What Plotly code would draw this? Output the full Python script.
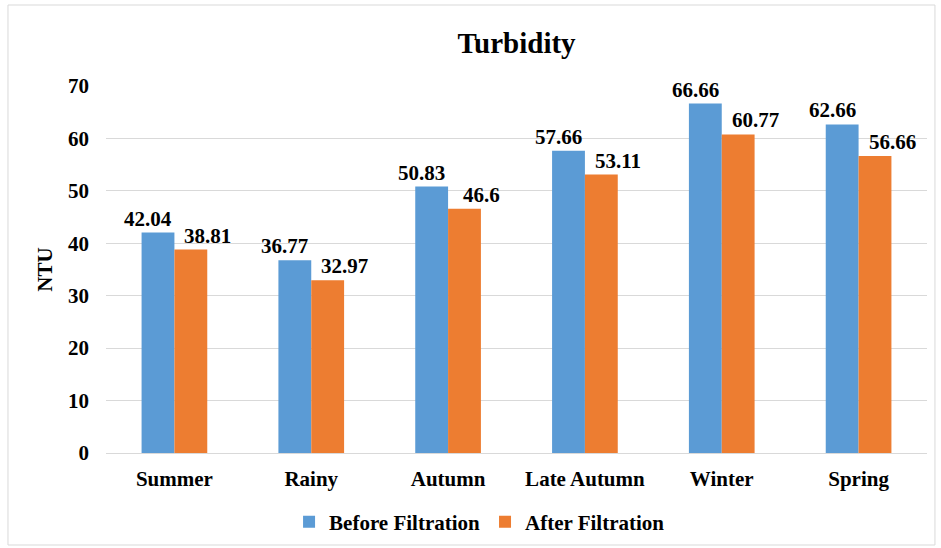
import plotly.graph_objects as go

categories = ["Summer", "Rainy", "Autumn", "Late Autumn", "Winter", "Spring"]
before = [42.04, 36.77, 50.83, 57.66, 66.66, 62.66]
after = [38.81, 32.97, 46.6, 53.11, 60.77, 56.66]
before_labels = ["42.04", "36.77", "50.83", "57.66", "66.66", "62.66"]
after_labels = ["38.81", "32.97", "46.6", "53.11", "60.77", "56.66"]
y_ticks = [0, 10, 20, 30, 40, 50, 60, 70]

FONT = "Liberation Serif"
def f(size):
    return dict(family=FONT, size=size, color="black", weight="bold")

BARGAP = 0.52
half = (1 - BARGAP) / 4  # offset of each bar centre from the category centre

fig = go.Figure()
fig.add_trace(go.Bar(x=categories, y=before, name="Before Filtration",
                     marker=dict(color="#5B9BD5", line=dict(width=0))))
fig.add_trace(go.Bar(x=categories, y=after, name="After Filtration",
                     marker=dict(color="#ED7D31", line=dict(width=0))))

for i, (v, t) in enumerate(zip(before, before_labels)):
    fig.add_annotation(x=i - half, y=v, xref="x", yref="y", text=t, showarrow=False,
                       xanchor="center", yanchor="bottom", xshift=-10, yshift=0,
                       font=f(21))
for i, (v, t) in enumerate(zip(after, after_labels)):
    fig.add_annotation(x=i + half, y=v, xref="x", yref="y", text=t, showarrow=False,
                       xanchor="center", yanchor="bottom", xshift=17, yshift=0,
                       font=f(21))

fig.update_layout(
    width=941, height=548,
    margin=dict(l=106, r=14, t=86, b=95, autoexpand=False),
    paper_bgcolor="white", plot_bgcolor="white",
    barmode="group", bargap=BARGAP, bargroupgap=0,
    font=f(21),
    title=dict(text="Turbidity", x=0.5, xref="paper", xanchor="center",
               yref="container", y=1 - 43 / 548, yanchor="middle",
               font=f(29)),
    xaxis=dict(showgrid=False, showline=True, linecolor="#D9D9D9", linewidth=1,
               tickfont=f(21), ticklabelstandoff=7),
    yaxis=dict(range=[0, 70], tickvals=y_ticks, showgrid=True, gridcolor="#D9D9D9",
               gridwidth=1, zeroline=False, showline=False,
               tickfont=f(21), ticklabelstandoff=16,
               title=dict(text="NTU", font=f(21), standoff=9)),
    legend=dict(orientation="h", x=0.455, xanchor="center",
                yref="container", y=(548 - 522) / 548, yanchor="middle",
                font=f(21), itemwidth=30, tracegroupgap=0),
)

fig.add_shape(type="rect", xref="paper", yref="paper",
              x0=-0.1194, x1=1.0097, y0=-0.2507, y1=1.2207,
              line=dict(color="#D9D9D9", width=1), fillcolor="rgba(0,0,0,0)", layer="below")

fig.write_html("out.html")
